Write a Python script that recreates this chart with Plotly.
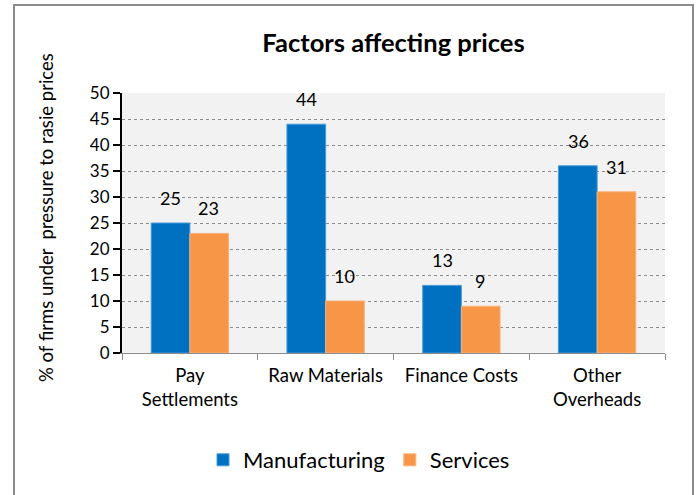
import plotly.graph_objects as go

categories = ["Pay<br>Settlements", "Raw Materials", "Finance Costs", "Other<br>Overheads"]
manufacturing = [25, 44, 13, 36]
services = [23, 10, 9, 31]
y_ticks = [0, 5, 10, 15, 20, 25, 30, 35, 40, 45, 50]

FONT = "Lato, Carlito, Calibri, sans-serif"
BLUE = "#0070C0"
ORANGE = "#F79646"

fig = go.Figure()
fig.add_trace(go.Bar(name="Manufacturing", x=categories, y=manufacturing,
                     marker=dict(color=BLUE, line=dict(color="#4A9AD8", width=1))))
fig.add_trace(go.Bar(name="Services", x=categories, y=services,
                     marker=dict(color=ORANGE, line=dict(color="#F9B27A", width=1))))

for cat, v in zip(categories, manufacturing):
    fig.add_annotation(x=cat, y=v, text=str(v), showarrow=False, xshift=-19, yshift=25,
                       font=dict(family=FONT, size=18, color="#000"))
for cat, v in zip(categories, services):
    fig.add_annotation(x=cat, y=v, text=str(v), showarrow=False, xshift=19, yshift=25,
                       font=dict(family=FONT, size=18, color="#000"))

L, R, T, B = 122, 665, 93, 353
W, H = 700, 495
pw, ph = R - L, B - T
fig.add_shape(type="rect", xref="paper", yref="paper",
              x0=(14 - L) / pw, x1=(693 - L) / pw,
              y0=(B - 500) / ph, y1=(B - 5) / ph,
              line=dict(color="#8C8C8C", width=2), fillcolor="rgba(0,0,0,0)", layer="below")

fig.add_annotation(text="% of firms under  pressure to rasie prices", textangle=-90,
                   xref="paper", yref="paper", x=(46 - L) / pw, y=(B - 218) / ph,
                   xanchor="center", yanchor="middle", showarrow=False,
                   font=dict(family=FONT, size=18.5, color="#000"))

fig.update_layout(
    width=W, height=H,
    margin=dict(l=L, r=W - R, t=T, b=H - B),
    paper_bgcolor="white", plot_bgcolor="#F2F2F2",
    barmode="group", bargap=0.43, bargroupgap=0,
    title=dict(text="<b>Factors affecting prices</b>", x=0.5, xref="paper", xanchor="center",
               y=1 - 43 / H, yanchor="middle", font=dict(family=FONT, size=25.5, color="#000")),
    font=dict(family=FONT, size=16, color="#000"),
    showlegend=True,
    legend=dict(orientation="h", x=(359 - L) / pw, xanchor="center", y=(B - 460) / ph, yanchor="middle",
                font=dict(family=FONT, size=22, color="#000"), itemwidth=30, bgcolor="rgba(0,0,0,0)"),
    xaxis=dict(showgrid=False, showline=True, linecolor="#8C8C8C", linewidth=1,
               ticks="outside", tickson="boundaries", ticklen=6, tickcolor="#8C8C8C",
               ticklabelstandoff=6,
               tickfont=dict(family=FONT, size=18.5, color="#000")),
    yaxis=dict(range=[0, 50], tickvals=y_ticks, showline=True, linecolor="#000", linewidth=2,
               ticks="outside", ticklen=7, tickwidth=2, tickcolor="#000",
               showgrid=True, gridcolor="#8C8C8C", griddash="dot", gridwidth=1, zeroline=False,
               tickfont=dict(family=FONT, size=17, color="#000")),
)

fig.write_html("out.html", config={"displayModeBar": False},
               post_script="document.body.style.margin='0';")
